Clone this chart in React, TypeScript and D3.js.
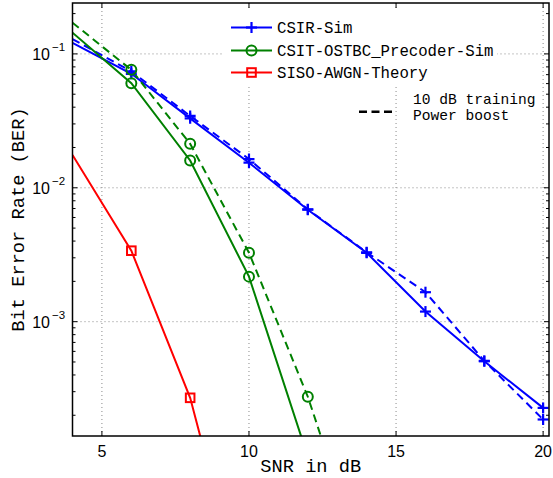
import React from "react";
import * as d3 from "d3";

// ---- data ----
const snrDb = [4, 6, 8, 10, 12, 14, 16, 18, 20];
const csirSim = [0.121, 0.071, 0.033, 0.0154, 0.00686, 0.00327, 0.00119, 5.06e-4, 2.27e-4];
const csirBoost = [0.129, 0.074, 0.0344, 0.0164, 0.0069, 0.0033, 0.00166, 5.1e-4, 1.86e-4];
const csitSnr = [4, 6, 8, 10, 12];
const csitSim = [0.144, 0.0604, 0.016, 0.00217, 9.8e-5];
const csitBoostSnr = [4, 6, 8, 10, 12, 14];
const csitBoost = [0.171, 0.076, 0.0213, 0.00327, 2.75e-4, 1.3e-5];
const sisoSnr = [4, 6, 8, 10];
const sisoTheory = [0.0176, 0.00339, 2.7e-4, 5.8e-6];

const xTicks = [5, 10, 15, 20];
const yDecades = [-3, -2, -1];
const legendNames = ["CSIR-Sim", "CSIT-OSTBC_Precoder-Sim", "SISO-AWGN-Theory"];
const boostLabel = ["10 dB training", "Power boost"];

const W = 553, H = 478;
const L = 72.5, R = 549, T = 3, B = 436;
const MONO = "'Liberation Mono', 'DejaVu Sans Mono', monospace";
const SANS = "'Liberation Sans', Arial, sans-serif";

type Pt = [number, number];

export default function App() {
  const x = d3.scaleLinear().domain([4, 20.2]).range([L, R]);
  const y = d3.scaleLog().domain([1.4e-4, 0.24]).range([B, T]);
  const line = d3.line<Pt>().x(d => x(d[0])).y(d => y(d[1]));
  const zip = (a: number[], b: number[]): Pt[] => a.map((v, i) => [v, b[i]]);

  const series = [
    { pts: zip(snrDb, csirSim), color: "#0000ff", dash: undefined, marker: "plus" },
    { pts: zip(snrDb, csirBoost), color: "#0000ff", dash: "8,5", marker: "plus" },
    { pts: zip(csitSnr, csitSim), color: "#008000", dash: undefined, marker: "circle" },
    { pts: zip(csitBoostSnr, csitBoost), color: "#008000", dash: "8,5", marker: "circle" },
    { pts: zip(sisoSnr, sisoTheory), color: "#ff0000", dash: undefined, marker: "square" },
  ];

  const [ymin, ymax] = y.domain();
  const minor: number[] = [];
  for (let d = -4; d <= -1; d++) {
    for (let k = 2; k <= 9; k++) {
      const v = k * Math.pow(10, d);
      if (v > ymin && v < ymax) minor.push(v);
    }
  }

  const marker = (kind: string, cx: number, cy: number, color: string, key: string) => {
    if (kind === "plus") {
      const s = 5.5;
      return (
        <g key={key} stroke={color} strokeWidth={2.2}>
          <line x1={cx - s} x2={cx + s} y1={cy} y2={cy} />
          <line x1={cx} x2={cx} y1={cy - s} y2={cy + s} />
        </g>
      );
    }
    if (kind === "circle") {
      return <circle key={key} cx={cx} cy={cy} r={5} fill="none" stroke={color} strokeWidth={2} />;
    }
    const s = 4.3;
    return <rect key={key} x={cx - s} y={cy - s} width={2 * s} height={2 * s} fill="none" stroke={color} strokeWidth={2} />;
  };

  const legendRows = [
    { name: legendNames[0], color: "#0000ff", marker: "plus", cy: 27.5 },
    { name: legendNames[1], color: "#008000", marker: "circle", cy: 50.5 },
    { name: legendNames[2], color: "#ff0000", marker: "square", cy: 72.5 },
  ];

  return (
    <svg width={W} height={H} style={{ position: "absolute", left: 0, top: 0, background: "#fff" }}>
      <defs>
        <clipPath id="plotClip">
          <rect x={L} y={T} width={R - L} height={B - T} />
        </clipPath>
      </defs>
      <rect x={0} y={0} width={W} height={H} fill="#fff" />

      {/* grid */}
      <g stroke="#8a8a8a" strokeWidth={1} strokeDasharray="1,3">
        {xTicks.map(t => (
          <line key={"gx" + t} x1={x(t)} x2={x(t)} y1={T} y2={B} />
        ))}
        {yDecades.map(d => (
          <line key={"gy" + d} x1={L} x2={R} y1={y(Math.pow(10, d))} y2={y(Math.pow(10, d))} />
        ))}
      </g>

      {/* legend background */}
      <rect x={223} y={11} width={274} height={75} fill="#fff" />

      {/* series */}
      <g clipPath="url(#plotClip)">
        {series.map((s, i) => (
          <path key={"s" + i} d={line(s.pts) || ""} fill="none" stroke={s.color} strokeWidth={2}
            strokeDasharray={s.dash} />
        ))}
        {series.map((s, i) =>
          s.pts
            .filter(p => p[0] > 4 && p[1] > ymin)
            .map((p, j) => marker(s.marker, x(p[0]), y(p[1]), s.color, `m${i}-${j}`))
        )}
      </g>

      {/* axes box */}
      <rect x={L} y={T} width={R - L} height={B - T} fill="none" stroke="#000" strokeWidth={1.5} />

      {/* ticks */}
      <g stroke="#000" strokeWidth={1}>
        {xTicks.map(t => (
          <g key={"xt" + t}>
            <line x1={x(t)} x2={x(t)} y1={B} y2={B - 5} />
            <line x1={x(t)} x2={x(t)} y1={T} y2={T + 5} />
          </g>
        ))}
        {yDecades.map(d => (
          <g key={"yt" + d}>
            <line x1={L} x2={L + 5} y1={y(Math.pow(10, d))} y2={y(Math.pow(10, d))} />
            <line x1={R} x2={R - 5} y1={y(Math.pow(10, d))} y2={y(Math.pow(10, d))} />
          </g>
        ))}
        {minor.map((v, i) => (
          <g key={"mt" + i}>
            <line x1={L} x2={L + 3} y1={y(v)} y2={y(v)} />
            <line x1={R} x2={R - 3} y1={y(v)} y2={y(v)} />
          </g>
        ))}
      </g>

      {/* tick labels */}
      <g fontFamily={SANS} fontSize={16} fill="#000">
        {xTicks.map(t => (
          <text key={"xl" + t} x={x(t)} y={456.5} textAnchor="middle">{t}</text>
        ))}
        {yDecades.map(d => (
          <text key={"yl" + d} x={50} y={y(Math.pow(10, d)) + 6} textAnchor="end">
            10<tspan x={52} dy={-9} fontSize={11.5} textAnchor="start">{"\u2212" + Math.abs(d)}</tspan>
          </text>
        ))}
      </g>

      {/* axis labels */}
      <text x={(L + R) / 2} y={471.5} textAnchor="middle" fontFamily={MONO} fontSize={18.7}>SNR in dB</text>
      <text transform={`translate(24,${(T + B) / 2}) rotate(-90)`} textAnchor="middle" fontFamily={MONO} fontSize={18.7}>
        Bit Error Rate (BER)
      </text>

      {/* legend */}
      <g fontFamily={MONO} fontSize={15.7}>
        {legendRows.map((r, i) => (
          <g key={"lg" + i}>
            <line x1={231} x2={272} y1={r.cy} y2={r.cy} stroke={r.color} strokeWidth={2} />
            {marker(r.marker, 251.5, r.cy, r.color, "lm" + i)}
            <text x={277} y={r.cy + 5}>{r.name}</text>
          </g>
        ))}
        <line x1={359} x2={392} y1={111.7} y2={111.7} stroke="#000" strokeWidth={2.5} strokeDasharray="8,4.5" />
        <text x={413} y={103.5} fontSize={14.6}>
          <tspan x={413}>{boostLabel[0]}</tspan>
          <tspan x={413} dy={16.8}>{boostLabel[1]}</tspan>
        </text>
      </g>
    </svg>
  );
}
